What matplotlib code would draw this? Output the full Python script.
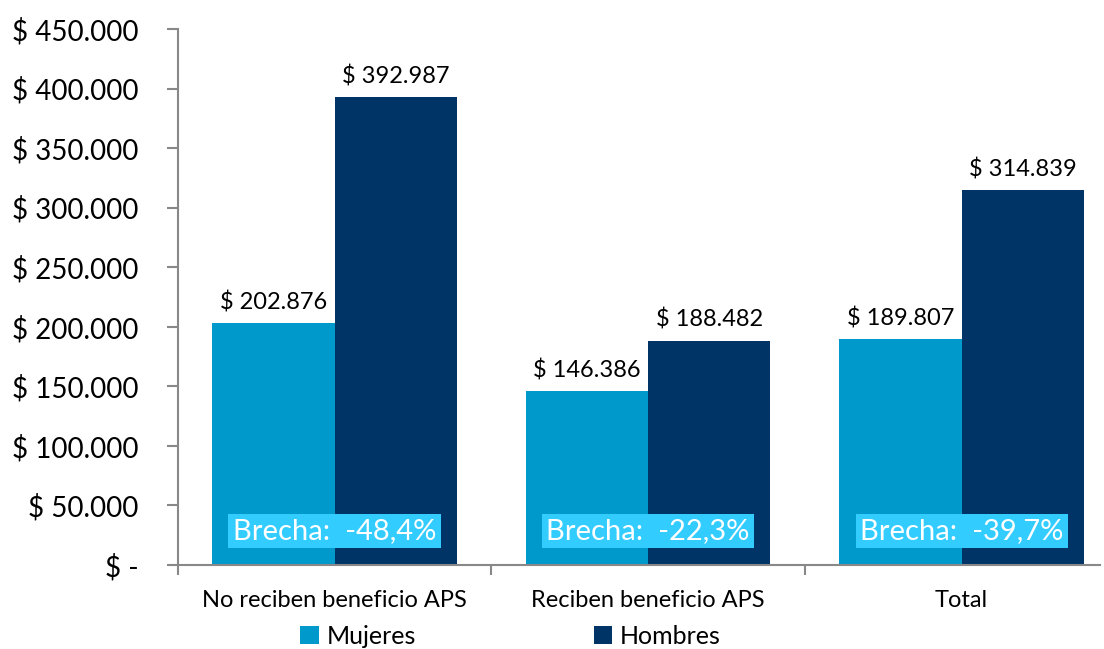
import numpy as np
import matplotlib.pyplot as plt

# data
categories = ['No reciben beneficio APS', 'Reciben beneficio APS', 'Total']
mujeres = [202876, 146386, 189807]
hombres = [392987, 188482, 314839]
brechas = ['-48,4%', '-22,3%', '-39,7%']

c_muj = '#0099CC'
c_hom = '#003366'
c_box = '#33CCFF'

plt.rcParams['font.family'] = ['Lato', 'DejaVu Sans']

fig = plt.figure(figsize=(11.04, 6.49), dpi=100)
ax = fig.add_axes([0.161, 0.1294, 0.835, 0.8259])

x = np.arange(len(categories))
w = 0.39
b1 = ax.bar(x - w / 2, mujeres, w, color=c_muj, label='Mujeres')
b2 = ax.bar(x + w / 2, hombres, w, color=c_hom, label='Hombres')

def fmt(v):
    return '$ ' + f'{v:,.0f}'.replace(',', '.')

for bars, vals in [(b1, mujeres), (b2, hombres)]:
    for r, v in zip(bars, vals):
        ax.text(r.get_x() + r.get_width() / 2, v + 8000, fmt(v),
                ha='center', va='bottom', fontsize=17)

# brecha boxes
for i, b in enumerate(brechas):
    ax.text(x[i], 28500, 'Brecha:  ' + b, ha='center', va='center',
            fontsize=21, color='white',
            bbox=dict(boxstyle='square,pad=0.15', fc=c_box, ec='none'))

ax.set_xlim(-0.5, 2.44)
ax.set_ylim(0, 450000)
ax.set_yticks(np.arange(0, 450001, 50000))
ax.set_yticklabels(['$ -'] + [fmt(v) for v in np.arange(50000, 450001, 50000)],
                   fontsize=20)
ax.set_xticks(x)
ax.set_xticklabels(categories, fontsize=17)
ax.set_xticks([-0.5, 0.5, 1.5], minor=True)
ax.tick_params(axis='x', which='major', length=0, pad=18)
ax.tick_params(axis='x', which='minor', length=7, color='#888888', width=1.5)
ax.tick_params(axis='y', length=8, color='#888888', width=1.5, pad=20)

for s in ['top', 'right']:
    ax.spines[s].set_visible(False)
for s in ['left', 'bottom']:
    ax.spines[s].set_color('#888888')
    ax.spines[s].set_linewidth(1.5)

ax.legend(loc='upper center', bbox_to_anchor=(0.361, -0.084), ncol=2,
          frameon=False, fontsize=18, handlelength=0.75, handleheight=0.75,
          handletextpad=0.3, columnspacing=7.1, borderaxespad=0.2)

fig.savefig('out.png', dpi=100)
